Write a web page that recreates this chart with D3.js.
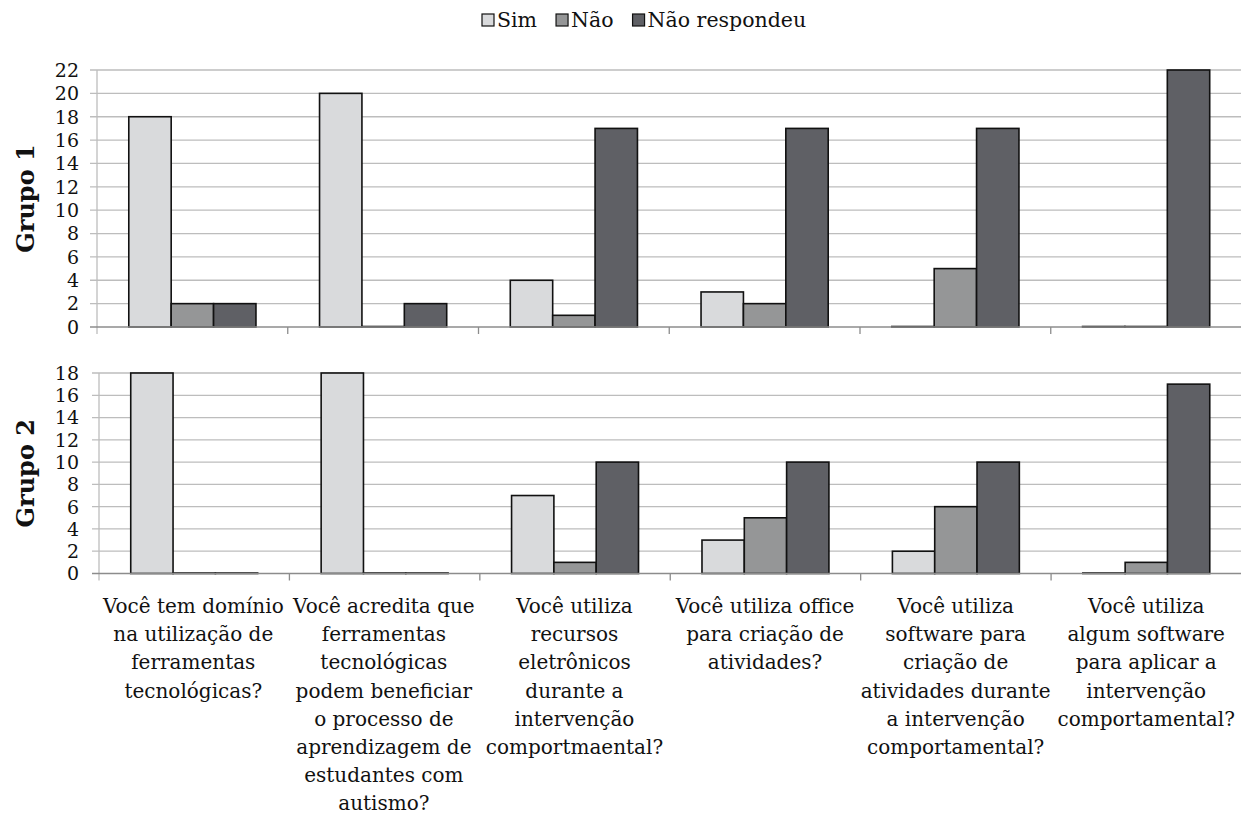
<!DOCTYPE html>
<html>
<head>
<meta charset="utf-8">
<script src="https://cdn.jsdelivr.net/npm/d3@7"></script>
<style>
  html, body { margin: 0; padding: 0; background: #fff; }
  svg { display: block; font-family: "DejaVu Serif", serif; }
</style>
</head>
<body>
<svg id="chart" width="1241" height="821"></svg>
<script>
// Survey questions (pre-broken into display lines)
const categories = [
  ["Você tem domínio", "na utilização de", "ferramentas", "tecnológicas?"],
  ["Você acredita que", "ferramentas", "tecnológicas", "podem beneficiar", "o processo de", "aprendizagem de", "estudantes com", "autismo?"],
  ["Você utiliza", "recursos", "eletrônicos", "durante a", "intervenção", "comportmaental?"],
  ["Você utiliza office", "para criação de", "atividades?"],
  ["Você utiliza", "software para", "criação de", "atividades durante", "a intervenção", "comportamental?"],
  ["Você utiliza", "algum software", "para aplicar a", "intervenção", "comportamental?"]
];
const seriesNames = ["Sim", "Não", "Não respondeu"];
const seriesColors = ["#d9dadc", "#959697", "#5f6065"];

const grupo1Sim = [18, 20, 4, 3, 0, 0];
const grupo1Nao = [2, 0, 1, 2, 5, 0];
const grupo1NR  = [2, 2, 17, 17, 17, 22];

const grupo2Sim = [18, 18, 7, 3, 2, 0];
const grupo2Nao = [0, 0, 1, 5, 6, 1];
const grupo2NR  = [0, 0, 10, 10, 10, 17];

const grupo1Ticks = [0, 2, 4, 6, 8, 10, 12, 14, 16, 18, 20, 22];
const grupo2Ticks = [0, 2, 4, 6, 8, 10, 12, 14, 16, 18];

const panels = [
  { title: "Grupo 1", series: [grupo1Sim, grupo1Nao, grupo1NR], ticks: grupo1Ticks, max: 22,
    left: 97, top: 70, bottom: 327 },
  { title: "Grupo 2", series: [grupo2Sim, grupo2Nao, grupo2NR], ticks: grupo2Ticks, max: 18,
    left: 99, top: 373, bottom: 573.5 }
];

const svg = d3.select("#chart");
const W = 1241;

panels.forEach(p => {
  const g = svg.append("g");
  const x0 = d3.scaleBand().domain(d3.range(categories.length)).range([p.left, W + 0.5]).paddingInner(0).paddingOuter(0);
  const bw = x0.bandwidth() / 4.5;
  const x1 = d3.scaleBand().domain(d3.range(3)).range([0.75 * bw, 3.75 * bw]);
  const y = d3.scaleLinear().domain([0, p.max]).range([p.bottom, p.top]);

  // gridlines with short tick stubs to the left
  g.selectAll("line.grid").data(p.ticks.filter(t => t > 0)).join("line")
    .attr("x1", p.left - 7).attr("x2", W)
    .attr("y1", d => y(d)).attr("y2", d => y(d))
    .attr("stroke", "#bdbdbd").attr("stroke-width", 1.3);

  // value axis line
  g.append("line")
    .attr("x1", p.left).attr("x2", p.left)
    .attr("y1", p.top).attr("y2", p.bottom + 7)
    .attr("stroke", "#bdbdbd").attr("stroke-width", 1.3);

  // tick labels
  g.selectAll("text.tick").data(p.ticks).join("text")
    .attr("x", 79).attr("y", d => y(d))
    .attr("dy", "0.36em")
    .attr("text-anchor", "end")
    .attr("font-size", 19)
    .attr("fill", "#111")
    .text(d => d);

  // bars
  const groups = g.selectAll("g.cat").data(d3.range(categories.length)).join("g")
    .attr("transform", i => `translate(${x0(i)},0)`);
  groups.selectAll("rect").data(i => p.series.map((s, k) => ({ k, v: s[i] }))).join("rect")
    .attr("x", d => x1(d.k))
    .attr("width", x1.bandwidth())
    .attr("y", d => y(d.v) - (d.v === 0 ? 0.5 : 0))
    .attr("height", d => Math.max(0.5, p.bottom - y(d.v)))
    .attr("fill", d => seriesColors[d.k])
    .attr("stroke", "#111").attr("stroke-width", 1.6);

  // category axis line + ticks
  g.append("line")
    .attr("x1", p.left - 7).attr("x2", W)
    .attr("y1", y(0)).attr("y2", y(0))
    .attr("stroke", "#8c8c8c").attr("stroke-width", 1.3);
  g.selectAll("line.ctick").data(d3.range(1, categories.length)).join("line")
    .attr("x1", i => x0(i)).attr("x2", i => x0(i))
    .attr("y1", y(0)).attr("y2", y(0) + 7)
    .attr("stroke", "#8c8c8c").attr("stroke-width", 1.3);

  // panel title
  const cy = (p.top + p.bottom) / 2;
  g.append("text")
    .attr("transform", `translate(34,${cy}) rotate(-90)`)
    .attr("text-anchor", "middle")
    .attr("font-size", 24).attr("font-weight", "bold")
    .attr("fill", "#111")
    .text(p.title);
});

// category labels under the lower panel
const xl = d3.scaleBand().domain(d3.range(categories.length)).range([98, W + 0.5]);
const labels = svg.append("g").selectAll("text").data(categories).join("text")
  .attr("text-anchor", "middle")
  .attr("font-size", 20)
  .attr("fill", "#111");
labels.each(function (lines, i) {
  d3.select(this).selectAll("tspan").data(lines).join("tspan")
    .attr("x", xl(i) + xl.bandwidth() / 2)
    .attr("y", (d, j) => 613 + j * 28.2)
    .text(d => d);
});

// legend
const legend = svg.append("g").attr("transform", "translate(482,20)");
let lx = 0;
seriesNames.forEach((name, k) => {
  legend.append("rect")
    .attr("x", lx).attr("y", -6).attr("width", 12).attr("height", 12)
    .attr("fill", seriesColors[k]).attr("stroke", "#111").attr("stroke-width", 1.2);
  const t = legend.append("text")
    .attr("x", lx + 15).attr("y", 0).attr("dy", "0.36em")
    .attr("font-size", 20.5).attr("fill", "#111")
    .text(name);
  lx += 15 + t.node().getComputedTextLength() + 19;
});
</script>
</body>
</html>
